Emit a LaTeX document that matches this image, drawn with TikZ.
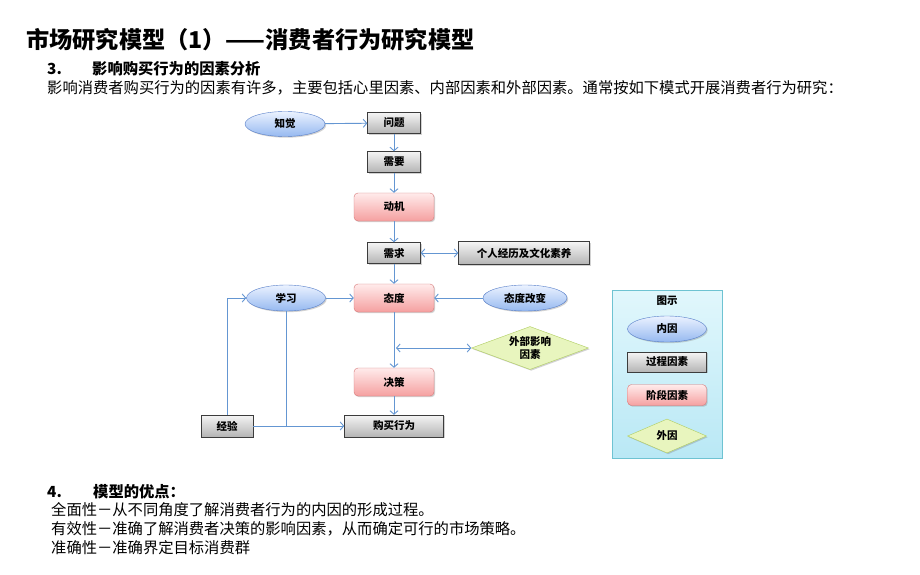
\documentclass[tikz,border=0pt]{standalone}
\usepackage{fontspec}
\setmainfont{Noto Sans CJK SC}
\usetikzlibrary{shapes.geometric,arrows.meta,shadows}

\definecolor{lnk}{RGB}{100,150,210}
\definecolor{ybd}{RGB}{85,125,200}
\definecolor{ytop}{RGB}{235,242,255}
\definecolor{ybot}{RGB}{150,185,240}
\definecolor{gbd}{RGB}{60,60,60}
\definecolor{gtop}{RGB}{245,245,245}
\definecolor{gbot}{RGB}{180,180,180}
\definecolor{pbd}{RGB}{215,120,120}
\definecolor{ptop}{RGB}{255,235,235}
\definecolor{pbot}{RGB}{245,160,160}
\definecolor{wbd}{RGB}{175,205,95}
\definecolor{wfill}{RGB}{232,245,190}
\definecolor{lbd}{RGB}{110,195,210}
\definecolor{ltop}{RGB}{225,247,252}
\definecolor{lbot}{RGB}{185,232,245}

\begin{document}
\begin{tikzpicture}[x=1pt,y=-1pt,
    every node/.style={inner sep=0pt},
    nfont/.style={font=\bfseries\fontsize{10.5}{12.5}\selectfont},
    shd/.style={drop shadow={opacity=0.35,shadow xshift=1.2pt,shadow yshift=-1.2pt}},
    yin/.style={ellipse,draw=ybd,top color=ytop,bottom color=ybot,nfont,shd,
        minimum width=80pt,minimum height=25pt},
    guo/.style={rectangle,draw=gbd,top color=gtop,bottom color=gbot,nfont,shd,
        minimum width=53pt,minimum height=21pt},
    jie/.style={rectangle,rounded corners=4pt,draw=pbd,top color=ptop,bottom color=pbot,nfont,shd,
        minimum width=80pt,minimum height=28pt},
    wai/.style={diamond,draw=wbd,fill=wfill,nfont,shd,align=center},
    link/.style={draw=lnk,line width=0.9pt,-{Straight Barb[length=3.5pt,width=8pt]}},
    link2/.style={draw=lnk,line width=0.9pt,{Straight Barb[length=3.5pt,width=8pt]}-{Straight Barb[length=3.5pt,width=8pt]}},
    line/.style={draw=lnk,line width=0.9pt},
    txt/.style={anchor=west,font=\fontsize{15.3}{19}\selectfont},
    hd/.style={anchor=west,font=\bfseries\fontsize{15.3}{18}\selectfont}
]
    \fill[white] (0,0) rectangle (920,575);

    % heading and text
    \node[anchor=west,font=\bfseries\fontsize{23.2}{27}\selectfont] (title) at (26,40) {市场研究模型（1）——消费者行为研究模型};
    \node[hd] (n3) at (47,69) {3.};
    \node[hd] (h3) at (92,69) {影响购买行为的因素分析};
    \node[txt] (intro) at (47,88) {影响消费者购买行为的因素有许多，主要包括心里因素、内部因素和外部因素。通常按如下模式开展消费者行为研究：};

    % flow
    \node[yin] (zj) at (285,124) {知觉};
    \node[guo] (wt) at (394,123) {问题};
    \node[guo] (xy) at (394,162) {需要};
    \node[jie] (dj) at (394,207) {动机};
    \node[guo] (xq) at (394,253) {需求};
    \node[guo,minimum width=131pt,minimum height=23pt] (gr) at (524,253) {个人经历及文化素养};
    \node[yin,minimum width=79pt,minimum height=26pt] (xx) at (286,298) {学习};
    \node[jie] (td) at (394,298) {态度};
    \node[yin,minimum width=84pt,minimum height=26pt] (tg) at (525,298) {态度改变};
    \node[wai,minimum width=117pt,minimum height=43pt,aspect=2.7] (wy) at (530,348) {外部影响\\因素};
    \node[jie] (jc) at (394,382) {决策};
    \node[guo,minimum width=52pt,minimum height=22pt] (jy) at (227,426) {经验};
    \node[guo,minimum width=99pt,minimum height=22pt] (gm) at (394,426) {购买行为};

    \draw[link] (zj) -- (wt);
    \draw[link] (wt) -- (xy);
    \draw[link] (xy) -- (dj);
    \draw[link] (dj) -- (xq);
    \draw[link] (xq) -- (td);
    \draw[link] (td) -- (jc);
    \draw[link] (jc) -- (gm);
    \draw[link2] (xq) -- (gr);
    \draw[link] (xx) -- (td);
    \draw[link] (tg) -- (td);
    \coordinate (jn) at (td.south |- wy.west);
    \draw[link2,shorten <=2pt] (jn) -- (wy);
    \draw[link] (jy.north) |- (xx.west);
    \draw[link] (jy) -- (gm);
    \draw[line] (xx.south) -- (xx.south |- gm.west);

    % legend
    \node[draw=lbd,line width=1pt,top color=ltop,bottom color=lbot,shd,
        minimum width=110pt,minimum height=168pt] (lg) at (667,374) {};
    \node[nfont] (lt) at (667,301) {图示};
    \node[yin,minimum width=79pt,minimum height=26pt] (lnei) at (667,329) {内因};
    \node[guo,minimum width=79pt,minimum height=20pt] (lgc) at (667,362) {过程因素};
    \node[jie,minimum width=79pt,minimum height=21pt] (ljd) at (667,395) {阶段因素};
    \node[wai,minimum width=79pt,minimum height=34pt,aspect=2.3] (lwai) at (667,436) {外因};

    % merits
    \node[hd] (n4) at (47,492) {4.};
    \node[hd] (h4) at (93,492) {模型的优点：};
    \node[txt] (m1) at (51,510) {全面性－从不同角度了解消费者行为的内因的形成过程。};
    \node[txt] (m2) at (51,529) {有效性－准确了解消费者决策的影响因素，从而确定可行的市场策略。};
    \node[txt] (m3) at (51,548) {准确性－准确界定目标消费群};
\end{tikzpicture}
\end{document}
